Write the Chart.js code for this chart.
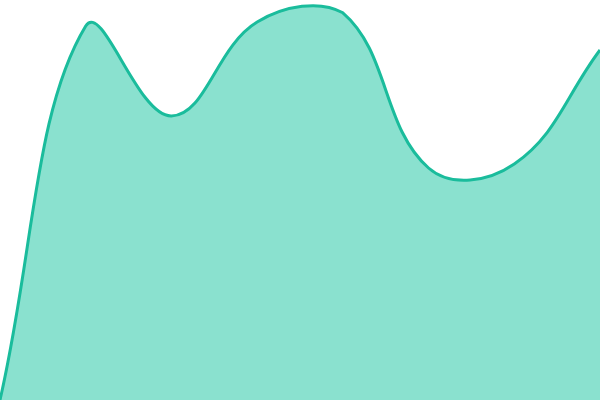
<!DOCTYPE html>
<html>
<head>
<meta charset="utf-8">
<script src="https://cdn.jsdelivr.net/npm/chart.js@4"></script>
<style>
  html, body { margin: 0; padding: 0; background: #fff; }
  #wrap { width: 600px; height: 400px; }
</style>
</head>
<body>
<div id="wrap"><canvas id="chart"></canvas></div>
<script>
// Chart data
const labels = ['1', '2', '3', '4', '5', '6', '7', '8'];
const values = [0, 93.5, 71, 94.5, 96.8, 58, 59, 87.5];

const ctx = document.getElementById('chart').getContext('2d');

new Chart(ctx, {
    type: 'line',
    data: {
        labels: labels,
        datasets: [{
            data: values,
            borderColor: '#1abc9c',
            backgroundColor: 'rgba(22, 196, 160, 0.5)',
            borderWidth: 3,
            fill: 'start',
            tension: 0.4,
            pointRadius: 0
        }]
    },
    options: {
        responsive: true,
        maintainAspectRatio: false,
        animation: false,
        layout: { padding: 0 },
        plugins: {
            legend: { display: false },
            tooltip: { enabled: false }
        },
        scales: {
            x: { display: false },
            y: { display: false, min: 0, max: 100 }
        }
    }
});
</script>
</body>
</html>
